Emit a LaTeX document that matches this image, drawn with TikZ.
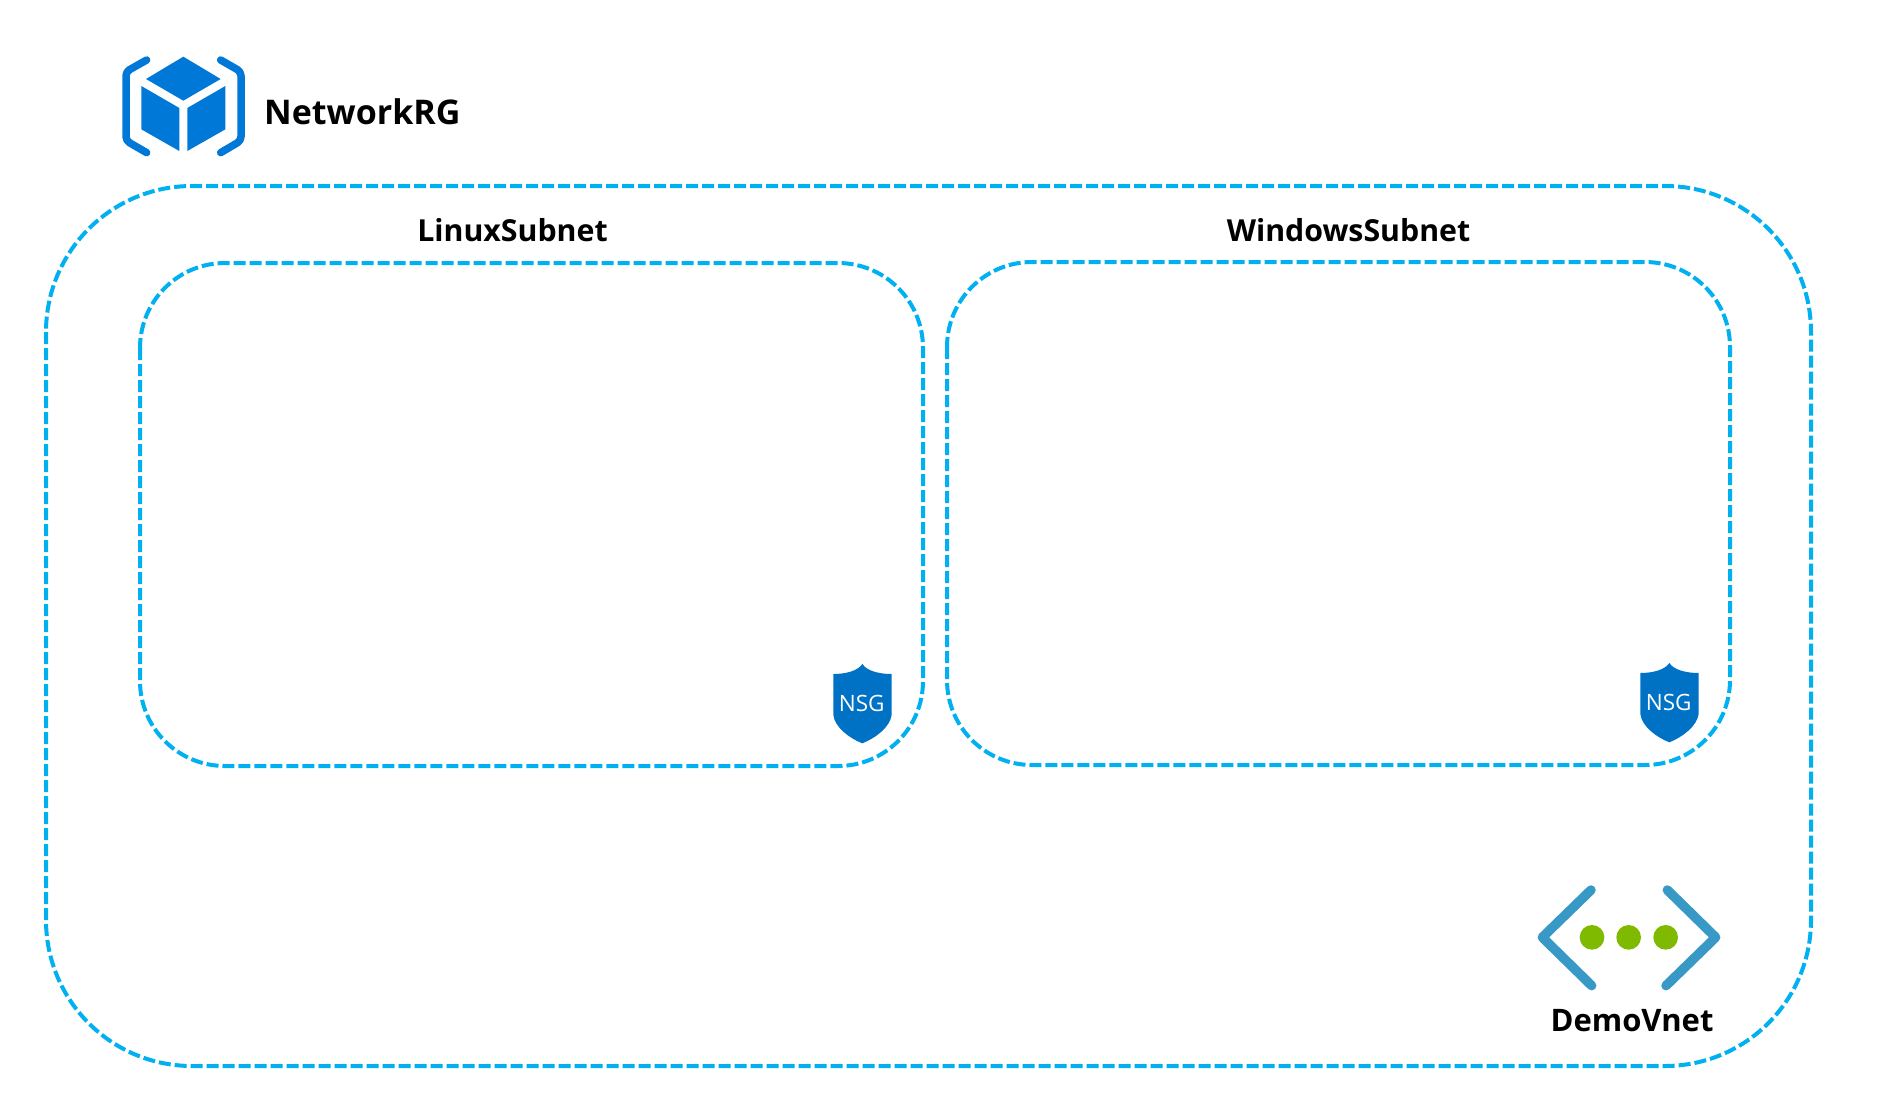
\documentclass[tikz,border=0pt]{standalone}
\usepackage{fontspec}
\setmainfont{Open Sans}
\definecolor{dashblue}{HTML}{00B0F0}
\definecolor{rgblue}{HTML}{0078D7}
\definecolor{nsgblue}{HTML}{0072C6}
\definecolor{vnetblue}{HTML}{3999C6}
\definecolor{vnetgreen}{HTML}{7FBA00}
\tikzset{
  zone/.style={draw=dashblue,line width=4pt,dash pattern=on 12pt off 4pt},
  title/.style={anchor=base,font=\fontsize{30.3}{33}\selectfont\bfseries,text=black,inner sep=0pt},
  rgbracket/.style={draw=rgblue,line width=7.5pt,line cap=round,line join=round,rounded corners=4pt},
  rgface/.style={fill=rgblue},
  shield/.style={fill=nsgblue},
  nsgtext/.style={font=\fontsize{22.5}{22}\selectfont,text=white,inner sep=0pt},
  chevron/.style={draw=vnetblue,line width=9.5pt,line cap=round,line join=round},
  dot/.style={fill=vnetgreen}
}
\newcommand{\nsgshield}[1]{%
  \fill[shield] (157,72) .. controls (170,92) and (205,102) .. (245,102)
     -- (245,225) .. controls (240,262) and (195,295) .. (157,310)
     .. controls (119,295) and (74,262) .. (70,225) -- (70,102)
     .. controls (109,102) and (144,92) .. (157,72) -- cycle;
  \node[nsgtext] (#1) at (155,190) {NSG};
}
\begin{document}
\begin{tikzpicture}[x=1pt,y=-1pt]
\useasboundingbox (0,0) rectangle (1891,1117);
\fill[white] (0,0) rectangle (1891,1117);
% containers
\draw[zone,rounded corners=146pt] (46,186) rectangle (1811,1066);
\draw[zone,rounded corners=85pt] (140,263) rectangle (923,766);
\draw[zone,rounded corners=85pt] (947,262) rectangle (1730,765);
% resource group icon
\begin{scope}[shift={(100,40)},scale=1/3]
  \draw[rgbracket] (140,60) -- (78,95) -- (78,302) -- (140,338);
  \draw[rgbracket] (362,60) -- (423,95) -- (423,302) -- (362,338);
  \fill[rgface] (250,50) -- (362,117) -- (250,182) -- (138,117) -- cycle;
  \fill[rgface] (124,138) -- (238,204) -- (238,333) -- (124,268) -- cycle;
  \fill[rgface] (376,138) -- (262,204) -- (262,333) -- (376,268) -- cycle;
\end{scope}
% NSG shields
\begin{scope}[shift={(810,640)},scale=1/3]
  \nsgshield{nsgleft}
\end{scope}
\begin{scope}[shift={(1617,639)},scale=1/3]
  \nsgshield{nsgright}
\end{scope}
% vnet icon
\begin{scope}[shift={(1520,870)},scale=1/3]
  \draw[chevron] (213,60) -- (67,202) -- (215,347);
  \draw[chevron] (442,60) -- (587,202) -- (438,347);
  \fill[dot] (216,202) circle (37);
  \fill[dot] (326,202) circle (37);
  \fill[dot] (437,202) circle (37);
\end{scope}
% labels
\node[title,anchor=base west,font=\fontsize{34}{34}\selectfont\bfseries] (rg) at (264,124) {NetworkRG};
\node[title] (linux) at (512.5,241) {LinuxSubnet};
\node[title] (windows) at (1348.5,241) {WindowsSubnet};
\node[title,font=\fontsize{31}{31}\selectfont\bfseries] (vnet) at (1632,1031) {DemoVnet};
\end{tikzpicture}
\end{document}
